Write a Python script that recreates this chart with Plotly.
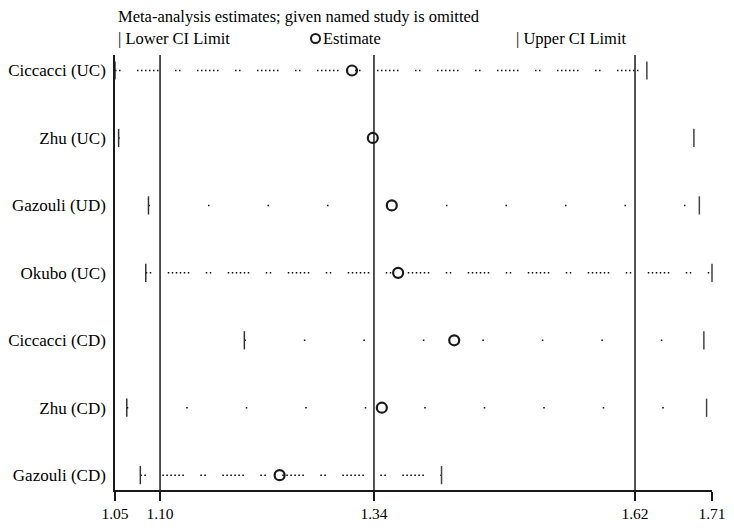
import plotly.graph_objects as go

# ---- data ----
studies = ["Ciccacci (UC)", "Zhu (UC)", "Gazouli (UD)", "Okubo (UC)",
           "Ciccacci (CD)", "Zhu (CD)", "Gazouli (CD)"]
lower = [1.050, 1.054, 1.087, 1.084, 1.193, 1.063, 1.078]
estimate = [1.312, 1.335, 1.356, 1.363, 1.425, 1.345, 1.232]
upper = [1.638, 1.690, 1.696, 1.710, 1.701, 1.704, 1.411]
overall = [1.0998, 1.3363, 1.6249]  # overall lower CI, estimate, upper CI

# ---- styles ----
dense = "1.5px,2.5px,1.5px,16.5px,1.5px,2.5px,1.5px,2.5px,1.5px,2.5px,1.5px,2.5px,1.5px,2.5px,1.5px,16.5px"
sparse = "1.5px,58px"
row_dash = [dense, "1px,3000px", sparse, dense, sparse, sparse, dense]
FONT = "Liberation Serif"
INK = "#1a1a1a"

OFF = 8  # default page body margin
W, H = 734 - OFF, 528 - OFF
L, T = 115 - OFF, 55 - OFF
R, B = 22, 38
pw, ph = W - L - R, H - T - B

def px_x(p):  # page pixel -> paper x
    return (p - OFF - L) / pw

def px_y(p):  # page pixel -> paper y
    return 1 + (T - (p - OFF)) / ph

fig = go.Figure()

for i, s in enumerate(studies):
    fig.add_trace(go.Scatter(
        x=[lower[i], upper[i]], y=[s, s], mode="lines",
        line=dict(color="#000", width=1.5, dash=row_dash[i]),
        showlegend=False, hoverinfo="skip", cliponaxis=False))

fig.add_trace(go.Scatter(
    x=lower, y=studies, mode="markers", name="Lower CI Limit",
    marker=dict(symbol="line-ns", size=13, line=dict(width=1.5, color="#333")),
    showlegend=False, cliponaxis=False))
fig.add_trace(go.Scatter(
    x=upper, y=studies, mode="markers", name="Upper CI Limit",
    marker=dict(symbol="line-ns", size=13, line=dict(width=1.5, color="#444")),
    showlegend=False, cliponaxis=False))
fig.add_trace(go.Scatter(
    x=estimate, y=studies, mode="markers", name="Estimate",
    marker=dict(symbol="circle-open", size=10, color=INK,
                line=dict(width=2.2, color=INK)),
    showlegend=False, cliponaxis=False))

xmin, xmax = min(lower), max(upper)
for v in overall:
    fig.add_shape(type="line", xref="x", yref="paper", x0=v, x1=v, y0=0, y1=1,
                  line=dict(color=INK, width=1.5))

tickvals = [xmin] + overall + [xmax]
ticktext = [f"{v:.2f}" for v in tickvals]

fig.update_xaxes(range=[xmin, xmax], tickvals=tickvals, ticktext=ticktext,
                 automargin=False,
                 showgrid=False, zeroline=False, showline=True,
                 linecolor=INK, linewidth=1.5, ticks="outside", ticklen=9,
                 tickwidth=1.5, tickcolor=INK,
                 tickfont=dict(family=FONT, size=15.5, color="#000"))
fig.update_yaxes(type="category", categoryorder="array", categoryarray=studies,
                 range=[6.22, -0.23], automargin=False,
                 showgrid=False, zeroline=False, ticklabelstandoff=4,
                 showline=True, linecolor=INK, linewidth=1.5, ticks="",
                 tickfont=dict(family=FONT, size=17, color="#000"))

ann_font = dict(family=FONT, size=16.5, color="#000")
fig.add_annotation(text="Meta-analysis estimates; given named study is omitted",
                   xref="paper", yref="paper", x=px_x(116), y=px_y(17),
                   xanchor="left", yanchor="middle", showarrow=False, font=ann_font)
fig.add_annotation(text="| Lower CI Limit", xref="paper", yref="paper",
                   x=px_x(116), y=px_y(38), xanchor="left", yanchor="middle",
                   showarrow=False, font=ann_font)
fig.add_annotation(text="Estimate", xref="paper", yref="paper",
                   x=px_x(321), y=px_y(38), xanchor="left", yanchor="middle",
                   showarrow=False, font=ann_font)
fig.add_annotation(text="| Upper CI Limit", xref="paper", yref="paper",
                   x=px_x(514), y=px_y(38), xanchor="left", yanchor="middle",
                   showarrow=False, font=ann_font)
fig.add_shape(type="circle", xref="paper", yref="paper",
              x0=px_x(311), x1=px_x(320), y0=px_y(43), y1=px_y(34),
              line=dict(color=INK, width=2))

fig.update_layout(width=W, height=H, margin=dict(l=L, r=R, t=T, b=B, autoexpand=False),
                  plot_bgcolor="white", paper_bgcolor="white",
                  showlegend=False, font=dict(family=FONT, color="#000"))

fig.write_html("out.html")
